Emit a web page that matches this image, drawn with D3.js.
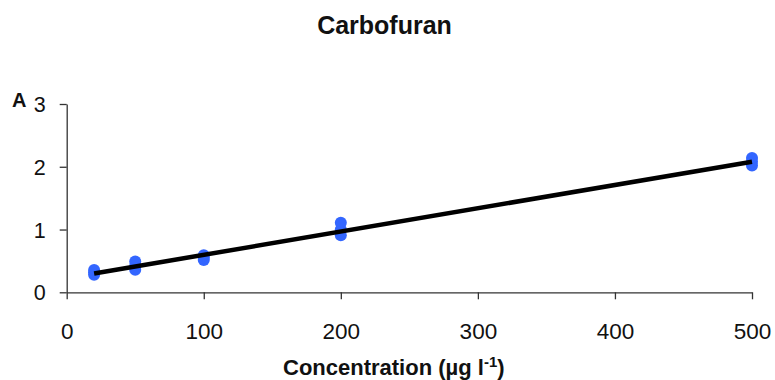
<!DOCTYPE html>
<html><head><meta charset="utf-8">
<script src="https://cdn.jsdelivr.net/npm/d3@7"></script>
<style>
html,body{margin:0;padding:0;background:#fff;}
svg{display:block;font-family:"Liberation Sans",Arial,sans-serif;}
</style></head>
<body>
<svg id="chart" width="775" height="380"></svg>
<script>
const concentrations = [20, 20, 20, 50, 50, 50, 100, 100, 100, 200, 200, 200, 500, 500, 500];
const absorbance = [0.28, 0.32, 0.355, 0.36, 0.42, 0.49, 0.515, 0.55, 0.59, 0.91, 1.00, 1.11, 2.02, 2.08, 2.14];
const xTicks = [0, 100, 200, 300, 400, 500];
const yTicks = [0, 1, 2, 3];
const trendSlope = 0.00371;
const trendIntercept = 0.226;
const chartTitle = "Carbofuran";
const yLabel = "A";

const svg = d3.select("#chart");
const x = d3.scaleLinear().domain([0, 500]).range([66.7, 752]);
const y = d3.scaleLinear().domain([0, 3]).range([292.3, 104]);

// axes
const xAxis = svg.append("g").attr("transform", `translate(0,${y(0)})`)
  .call(d3.axisBottom(x).tickValues(xTicks).tickSize(7).tickSizeOuter(0).tickFormat(d3.format("d")));
xAxis.selectAll("text").attr("y", 47).attr("dy", 0).style("font-size", "22.5px").attr("fill", "#111");
const yAxis = svg.append("g").attr("transform", `translate(${x(0)},0)`)
  .call(d3.axisLeft(y).tickValues(yTicks).tickSize(7).tickSizeOuter(0).tickFormat(d3.format("d")));
yAxis.selectAll("text").attr("x", -21).attr("dy", "0.35em").style("font-size", "21.5px").attr("fill", "#111");
svg.selectAll(".domain, .tick line").attr("stroke", "#333").attr("stroke-width", 1.3);

// points
const pts = concentrations.map((c, i) => ({c, a: absorbance[i]}));
svg.append("g").selectAll("circle").data(pts).join("circle")
  .attr("cx", d => x(d.c)).attr("cy", d => y(d.a)).attr("r", 6)
  .attr("fill", "#3366ff");

// trend line
const xExt = d3.extent(concentrations);
const line = d3.line().x(d => x(d)).y(d => y(trendIntercept + trendSlope * d));
svg.append("path").datum(xExt).attr("d", line)
  .attr("stroke", "#000").attr("stroke-width", 4.5).attr("fill", "none");

// title
svg.append("text").attr("x", 384.5).attr("y", 34).attr("text-anchor", "middle")
  .style("font-size", "25px").style("font-weight", "bold").attr("fill", "#111").text(chartTitle);
svg.append("text").attr("x", 12).attr("y", 107)
  .style("font-size", "20px").style("font-weight", "bold").attr("fill", "#111").text(yLabel);
const xt = svg.append("text").attr("x", 283).attr("y", 375)
  .style("font-size", "22px").style("font-weight", "bold").attr("fill", "#111");
xt.append("tspan").text("Concentration (µg  l");
xt.append("tspan").attr("dy", -8).style("font-size", "15px").text("-1");
xt.append("tspan").attr("dy", 8).text(")");
</script>
</body></html>
